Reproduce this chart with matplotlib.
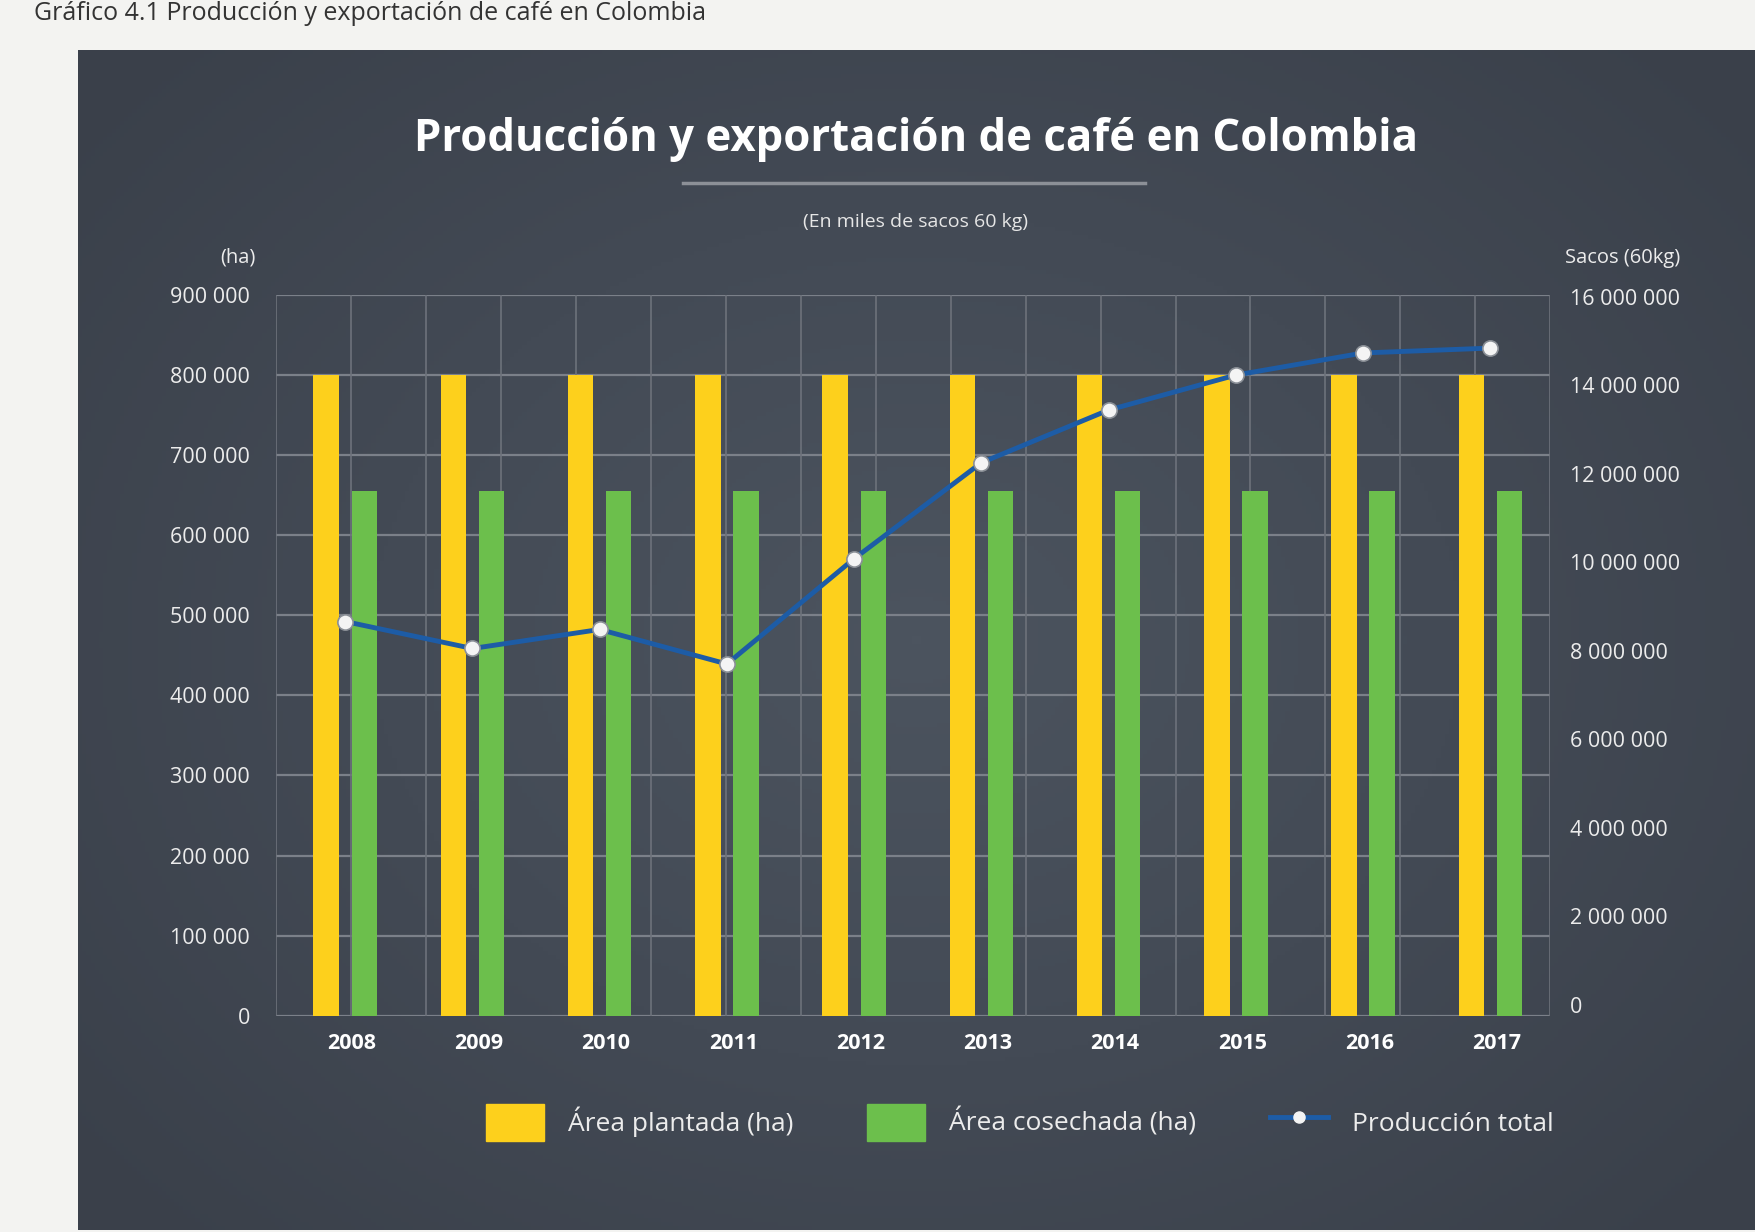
import numpy as np
import matplotlib
matplotlib.use('Agg')
import matplotlib.pyplot as plt
from matplotlib.colors import LinearSegmentedColormap
from matplotlib.lines import Line2D
from matplotlib.patches import Patch

plt.rcParams['font.family'] = ['Open Sans', 'DejaVu Sans']

# data
years = ['2008', '2009', '2010', '2011', '2012', '2013', '2014', '2015', '2016', '2017']
area_plantada = [800000, 800000, 800000, 800000, 800000, 800000, 800000, 800000, 800000, 800000]
area_cosechada = [655000, 655000, 655000, 655000, 655000, 655000, 655000, 655000, 655000, 655000]
produccion = [8660000, 8050000, 8480000, 7700000, 10080000, 12250000, 13440000, 14230000, 14730000, 14840000]

left_ticks = list(range(0, 900001, 100000))
right_ticks = list(range(0, 16000001, 2000000))

def fmt(v):
    return f'{v:,}'.replace(',', ' ')

W, H = 1568, 1100  # reference was measured at this scale
fig = plt.figure(figsize=(17.55, 12.32), dpi=100)
fig.patch.set_facecolor('#f3f3f1')

# top caption (only its lower part shows in the reference)
fig.text(30 / W, 0.999, 'Gráfico 4.1 Producción y exportación de café en Colombia',
         fontsize=18, color='#333333', ha='left', va='top')

# dark panel with soft radial gradient
bg = fig.add_axes([70 / W, 1 - 1098 / H, 1 - 70 / W, (1098 - 45) / H])
yy, xx = np.mgrid[-1:1:300j, -1:1:400j]
r = np.sqrt(xx ** 2 + (yy * 0.9) ** 2)
cmap = LinearSegmentedColormap.from_list('bg', ['#4c545f', '#434a55', '#3a404a'])
bg.imshow(r, cmap=cmap, aspect='auto', extent=[0, 1, 0, 1], vmin=0, vmax=1.3)
bg.set_axis_off()

# title, rule and subtitle
fig.text(818 / W, 1 - 125 / H, 'Producción y exportación de café en Colombia',
         fontsize=31.5, fontweight='bold', color='white', ha='center', va='center')
fig.add_artist(Line2D([610 / W, 1023 / W], [1 - 163 / H] * 2, color='#8c9097', lw=2.5))
fig.text(818 / W, 1 - 198 / H, '(En miles de sacos 60 kg)',
         fontsize=14, color='#e6e6e6', ha='center', va='center')

ax = fig.add_axes([247 / W, 1 - 907 / H, (1385 - 247) / W, (907 - 263) / H])
ax.patch.set_alpha(0)
x = np.arange(len(years))
bw = 0.2
ax.bar(x - 0.15, area_plantada, bw, color='#fdd01c', zorder=3)
ax.bar(x + 0.15, area_cosechada, bw, color='#6cbf4c', zorder=3)
ax.set_xlim(-0.54, len(years) - 0.53)
ax.set_ylim(0, 900000)
ax.set_yticks(left_ticks)
ax.set_yticklabels([fmt(v) for v in left_ticks])
ax.set_xticks(x + 0.05)
ax.set_xticklabels(years, fontweight='bold')
ax.tick_params(axis='y', length=0, pad=19, labelsize=15.5, labelcolor='#ececec')
ax.tick_params(axis='x', length=0, pad=12, labelsize=15.5, labelcolor='white')
for s in ax.spines.values():
    s.set_visible(False)
for v in left_ticks:
    ax.axhline(v, color='#7b8089', lw=1.6, zorder=1)
for f in np.linspace(0, 1, 18):
    ax.axvline(ax.get_xlim()[0] + f * (ax.get_xlim()[1] - ax.get_xlim()[0]),
               color='#6d727b', lw=1.2, zorder=1)

ax2 = ax.twinx()
ax2.plot(x, produccion, color='#1d5ca6', lw=3.5, marker='o', markersize=11,
         markerfacecolor='#f4f4f4', markeredgecolor='#8a8f96', markeredgewidth=1.2, zorder=5)
ax2.set_ylim(-253000, 16050000)
ax2.set_yticks(right_ticks)
ax2.set_yticklabels([fmt(v) for v in right_ticks])
ax2.tick_params(axis='y', length=0, pad=14, labelsize=15.5, labelcolor='#ececec')
for s in ax2.spines.values():
    s.set_visible(False)

fig.text(228 / W, 1 - 230 / H, '(ha)', fontsize=14.5, color='#ececec', ha='right', va='center')
fig.text(1398 / W, 1 - 230 / H, 'Sacos (60kg)', fontsize=14.5, color='#ececec', ha='left', va='center')

handles = [Patch(color='#fdd01c'), Patch(color='#6cbf4c'),
           Line2D([], [], color='#1d5ca6', lw=3.5, marker='o', markersize=8,
                  markerfacecolor='#f4f4f4', markeredgecolor='#f4f4f4')]
labels = ['Área plantada (ha)', 'Área cosechada (ha)', 'Producción total']
leg = fig.legend(handles, labels, loc='center', bbox_to_anchor=(911 / W, 1 - 1002 / H),
                 ncol=3, frameon=False, fontsize=19, handlelength=2.2, handleheight=1.8,
                 columnspacing=2.8, handletextpad=0.9)
for t in leg.get_texts():
    t.set_color('#ececec')

fig.savefig('out.png', dpi=100, facecolor=fig.get_facecolor())
